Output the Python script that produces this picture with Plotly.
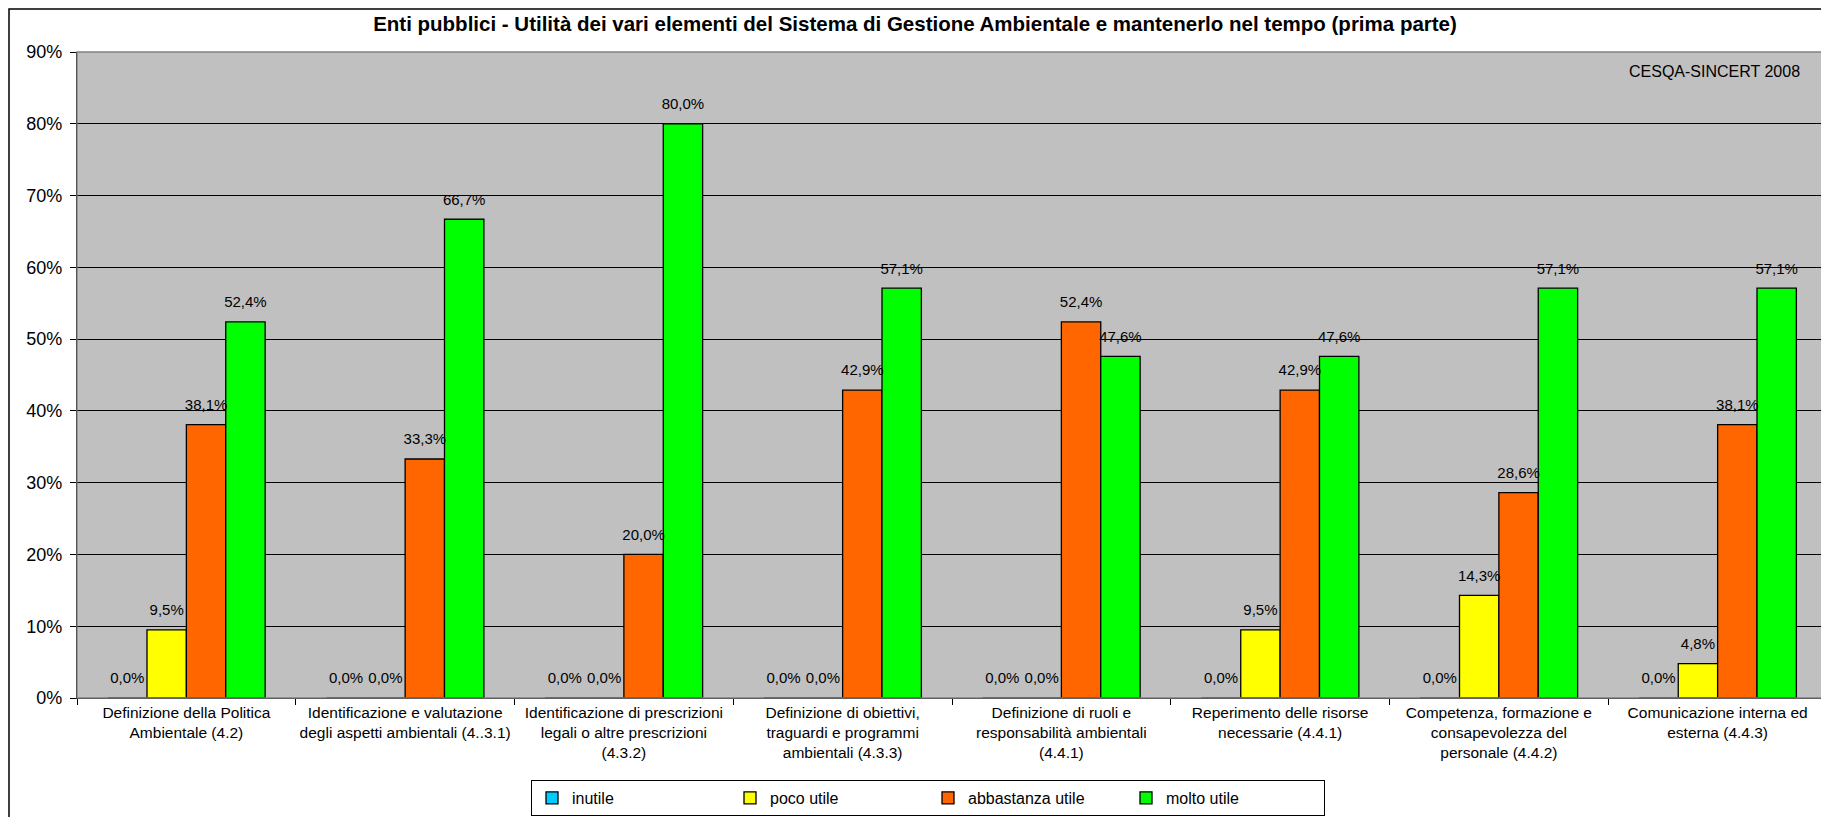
import plotly.graph_objects as go

categories = [
    "Definizione della Politica<br>Ambientale (4.2)",
    "Identificazione e valutazione<br>degli aspetti ambientali (4..3.1)",
    "Identificazione di prescrizioni<br>legali o altre prescrizioni<br>(4.3.2)",
    "Definizione di obiettivi,<br>traguardi e programmi<br>ambientali (4.3.3)",
    "Definizione di ruoli e<br>responsabilità ambientali<br>(4.4.1)",
    "Reperimento delle risorse<br>necessarie (4.4.1)",
    "Competenza, formazione e<br>consapevolezza del<br>personale (4.4.2)",
    "Comunicazione interna ed<br>esterna (4.4.3)",
]

inutile = [0.0, 0.0, 0.0, 0.0, 0.0, 0.0, 0.0, 0.0]
poco_utile = [9.5, 0.0, 0.0, 0.0, 0.0, 9.5, 14.3, 4.8]
abbastanza_utile = [38.1, 33.3, 20.0, 42.9, 52.4, 42.9, 28.6, 38.1]
molto_utile = [52.4, 66.7, 80.0, 57.1, 47.6, 47.6, 57.1, 57.1]

series = [
    ("inutile", inutile, "#00CCFF"),
    ("poco utile", poco_utile, "#FFFF00"),
    ("abbastanza utile", abbastanza_utile, "#FF6600"),
    ("molto utile", molto_utile, "#00FF00"),
]

y_ticks = [0, 10, 20, 30, 40, 50, 60, 70, 80, 90]
y_tick_labels = ["0%", "10%", "20%", "30%", "40%", "50%", "60%", "70%", "80%", "90%"]

FONT = "Liberation Sans, Arial, sans-serif"

# the page body has an 8px margin, so the figure starts at (8, 8) in the window
OFF = 8
W, H = 1829 - OFF, 817 - OFF
L, R, T, B = 77 - OFF, 2, 52 - OFF, 119
PW, PH = W - L - R, H - T - B


def pct(v):
    return "{:.1f}%".format(v).replace(".", ",")


fig = go.Figure()

# coloured bars, no text
for name, vals, color in series:
    fig.add_trace(go.Bar(x=categories, y=vals, name=name,
                         marker=dict(color=color, line=dict(color="black", width=1.3)),
                         hoverinfo="skip"))

# transparent copies on an overlaid axis so the labels sit above every bar
# (base lifts the label a little off the bar top, like Excel does)
for name, vals, color in series:
    fig.add_trace(go.Bar(x=categories, y=vals, base=1.2, name=name, showlegend=False,
                         xaxis="x2", yaxis="y2",
                         marker=dict(color="rgba(0,0,0,0)", line=dict(width=0)),
                         text=[pct(v) for v in vals], textposition="outside",
                         constraintext="none", cliponaxis=False,
                         textfont=dict(family=FONT, size=15, color="black"),
                         hoverinfo="skip"))

fig.update_layout(
    width=W, height=H,
    margin=dict(l=L, r=R, t=T, b=B, autoexpand=False),
    paper_bgcolor="white",
    plot_bgcolor="#C0C0C0",
    barmode="group",
    bargap=0.28,
    bargroupgap=0,
    font=dict(family=FONT, size=15, color="black"),
    title=dict(text="<b>Enti pubblici - Utilità dei vari elementi del Sistema di Gestione "
                    "Ambientale e mantenerlo nel tempo (prima parte)</b>",
               x=(915 - OFF) / W, xref="container", xanchor="center",
               y=1 - (24 - OFF) / H, yref="container", yanchor="middle",
               font=dict(family=FONT, size=20.5, color="black")),
    showlegend=True,
    legend=dict(orientation="h", xref="container", x=(531 - OFF) / W, xanchor="left",
                yref="container", y=1 - (780 - OFF) / H, yanchor="top",
                bordercolor="black", borderwidth=1, bgcolor="white",
                entrywidth=153, entrywidthmode="pixels",
                font=dict(family=FONT, size=16), itemwidth=30,
                traceorder="normal"),
)

fig.update_xaxes(showline=True, linecolor="black", linewidth=1.3,
                 ticks="outside", tickson="boundaries", ticklen=6, tickcolor="black",
                 tickangle=0, tickfont=dict(family=FONT, size=15.5),
                 showgrid=False, mirror=False, automargin=False)
fig.update_yaxes(range=[0, 90], tickmode="array", tickvals=y_ticks, ticktext=y_tick_labels,
                 showline=True, linecolor="black", linewidth=1.3,
                 ticks="outside", ticklen=6, tickcolor="black", ticklabelstandoff=4,
                 showgrid=True, gridcolor="black", gridwidth=1,
                 zeroline=False, tickfont=dict(family=FONT, size=18),
                 automargin=False)

fig.update_layout(
    xaxis2=dict(overlaying="x", matches="x", visible=False),
    yaxis2=dict(overlaying="y", matches="y", visible=False, range=[0, 90]),
)

# top and right edge of plot area (grey), source note
fig.add_shape(type="rect", xref="paper", yref="paper", x0=0, x1=1, y0=0, y1=1,
              line=dict(color="#808080", width=1.3), layer="above")
fig.add_annotation(text="CESQA-SINCERT 2008", xref="paper", yref="paper",
                   x=(1802 - 77) / PW, y=1 - (71 - 52) / PH,
                   xanchor="right", yanchor="middle", showarrow=False,
                   font=dict(family=FONT, size=16, color="black"))

# outer chart border (left and top edges of the figure)
fig.add_shape(type="rect", xref="paper", yref="paper",
              x0=-(L - 1) / PW, x1=1.05, y0=-0.3, y1=1 + (T - 1) / PH,
              line=dict(color="black", width=1.5), layer="above")

fig.write_html("out.html")
